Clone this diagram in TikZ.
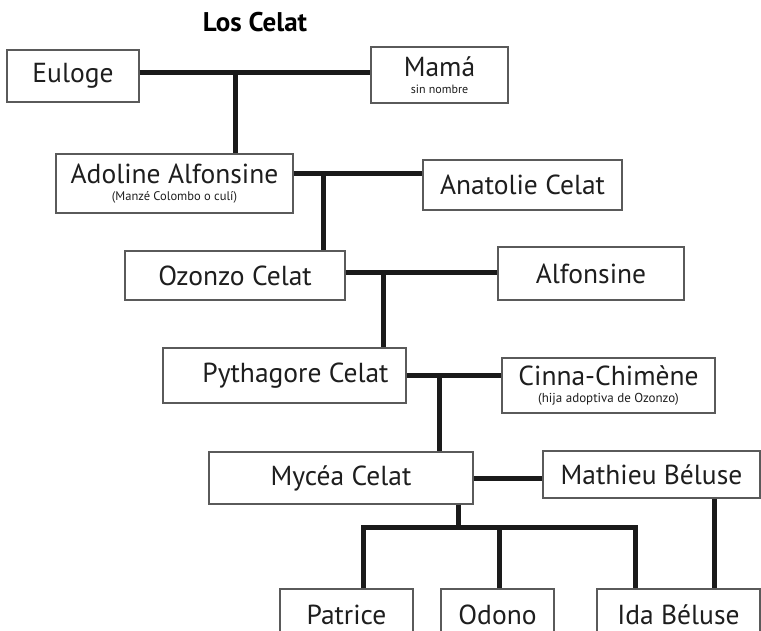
\documentclass[tikz,border=0pt]{standalone}
\usepackage{fontspec}
\setmainfont{PT Sans}
\usetikzlibrary{positioning, calc}
\usepackage{xcolor}
\definecolor{celatline}{HTML}{1A1A1A}
\definecolor{celatbox}{HTML}{5A5A5A}
\definecolor{celattext}{HTML}{1E1E1E}

\begin{document}
\begin{tikzpicture}[x=1pt, y=-1pt,
    person/.style={draw=celatbox, line width=1.2pt, fill=white, text=celattext,
                   font=\fontsize{27.5}{16.5}\selectfont, align=center, inner sep=0pt},
    link/.style={draw=celatline, line width=5pt}]
  \useasboundingbox (0,0) rectangle (761,630);
  \clip (0,0) rectangle (761,630);

  \node[font=\fontsize{27}{27}\selectfont\bfseries, text=black] (title) at (255,22) {Los Celat};

  % generations, top to bottom
  \node[person, minimum width=132pt, minimum height=52pt] (euloge) at (73,76) {Euloge};
  \node[person, minimum width=137pt, minimum height=56pt] (mama) at (439.5,75)
       {Mamá\\{\fontsize{12}{12}\selectfont sin nombre}};
  \node[person, minimum width=237pt, minimum height=59pt] (adoline) at (174.5,183.5)
       {Adoline Alfonsine\\{\fontsize{12.5}{12}\selectfont (Manzé Colombo o culí)}};
  \node[person, minimum width=199pt, minimum height=50pt] (anatolie) at (522.5,185) {Anatolie Celat};
  \node[person, minimum width=220pt, minimum height=49pt] (ozonzo) at (235,275.5) {Ozonzo Celat};
  \node[person, minimum width=186pt, minimum height=53pt] (alfonsine) at (591,273.5) {Alfonsine};
  \node[person, minimum width=243pt, minimum height=55pt] (pythagore) at (284.5,375.5)
       {\hspace*{22pt}Pythagore Celat};
  \node[person, minimum width=213pt, minimum height=55pt] (cinna) at (608.5,385.5)
       {Cinna-Chimène\\{\fontsize{13}{12}\selectfont (hija adoptiva de Ozonzo)}};
  \node[person, minimum width=264pt, minimum height=52pt] (mycea) at (341,478) {Mycéa Celat};
  \node[person, minimum width=217pt, minimum height=47pt] (mathieu) at (651.5,474.5) {Mathieu Béluse};

  % children, cut by the lower edge
  \foreach \n/\x/\w/\t in {patrice/346.5/133/Patrice, odono/497.5/113/Odono, ida/678.5/163/Ida Béluse}{
    \node[person, minimum width=\w pt, minimum height=52pt] (\n) at (\x,615) {\t};
  }

  % couples and descent
  \coordinate (m1) at (235,72);
  \coordinate (m2) at (323,173);
  \coordinate (m3) at (383,272);
  \coordinate (m4) at (439,375);
  \draw[link] (euloge.east |- m1) -- (mama.west |- m1);
  \draw[link] (m1) -- (m1 |- adoline.north);
  \draw[link] (adoline.east |- m2) -- (anatolie.west |- m2);
  \draw[link] (m2) -- (m2 |- ozonzo.north);
  \draw[link] (ozonzo.east |- m3) -- (alfonsine.west |- m3);
  \draw[link] (m3) -- (m3 |- pythagore.north);
  \draw[link] (pythagore.east |- m4) -- (cinna.west |- m4);
  \draw[link] (m4) -- (m4 |- mycea.north);
  \draw[link] (mycea.east) -- (mycea.east -| mathieu.west);

  \coordinate (kids) at (458,527);
  \coordinate (kp) at (363,527);
  \coordinate (ko) at (499,527);
  \coordinate (ki) at (635,527);
  \coordinate (dad) at (714,527);
  \draw[link] (kids |- mycea.south) -- (kids);
  \draw[link] (kp |- patrice.north) -- (kp) -- (ki) -- (ki |- ida.north);
  \draw[link] (ko) -- (ko |- odono.north);
  \draw[link] (dad |- mathieu.south) -- (dad |- ida.north);
\end{tikzpicture}
\end{document}
